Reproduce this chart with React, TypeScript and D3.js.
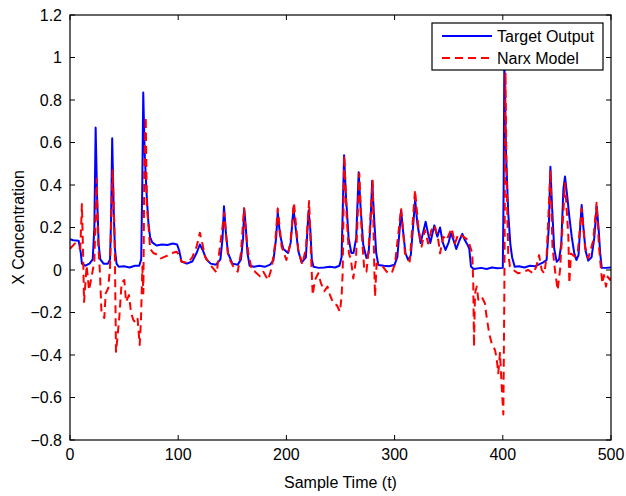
import React from "react";
import * as d3 from "d3";

const xTicks = [0, 100, 200, 300, 400, 500];
const yTicks = [-0.8, -0.6, -0.4, -0.2, 0, 0.2, 0.4, 0.6, 0.8, 1, 1.2];
const seriesNames = ["Target Output", "Narx Model"];
const xLabel = "Sample Time (t)";
const yLabel = "X Concentration";

const targetOutput: [number, number][] = [
  [0,0.145],[3,0.14],[8,0.138],[10,0.08],[11,0.03],[14,0.02],[18,0.03],[21,0.05],[22.5,0.2],[23.7,0.67],[25,0.35],[26.5,0.12],[28,0.05],[31,0.03],[35,0.03],[37,0.05],[38,0.25],[39,0.62],[40.3,0.3],[41.5,0.1],[43,0.03],[45,0.015],[50,0.018],[55,0.012],[60,0.02],[64,0.02],[65.8,0.05],[66.8,0.4],[67.7,0.835],[69,0.55],[71,0.34],[72.5,0.22],[74,0.155],[76,0.13],[80,0.115],[85,0.12],[90,0.118],[95,0.125],[99,0.12],[101,0.09],[103,0.04],[108,0.03],[113,0.04],[117,0.08],[120,0.12],[123,0.09],[126,0.05],[130,0.03],[135,0.025],[139,0.05],[141,0.15],[142.3,0.3],[144,0.18],[146,0.08],[150,0.03],[155,0.025],[158,0.05],[160,0.15],[161,0.29],[162.5,0.2],[164,0.08],[166,0.02],[170,0.015],[175,0.02],[180,0.015],[185,0.025],[188,0.045],[190.5,0.15],[192,0.27],[194,0.17],[197,0.1],[201.5,0.08],[204,0.13],[206.5,0.29],[208.5,0.2],[211,0.09],[214,0.035],[218,0.06],[220.5,0.28],[222,0.2],[223.5,0.05],[225,0.015],[230,0.01],[235,0.012],[240,0.015],[245,0.012],[249,0.02],[251,0.06],[253.3,0.54],[255,0.35],[257.5,0.15],[260,0.08],[262,0.08],[264.5,0.15],[266.8,0.46],[268.5,0.3],[271,0.12],[274,0.056],[276,0.08],[277.5,0.2],[279.3,0.42],[281,0.25],[283,0.08],[285,0.023],[290,0.02],[295,0.018],[300,0.025],[302.5,0.06],[304.5,0.18],[306,0.28],[307.5,0.2],[310,0.08],[312.5,0.047],[315,0.07],[317,0.2],[319,0.33],[321,0.22],[324,0.127],[326.5,0.18],[328.7,0.227],[331,0.17],[333,0.127],[336.7,0.21],[339.5,0.157],[342,0.2],[344.5,0.13],[347,0.094],[350,0.13],[352,0.174],[354.5,0.14],[357,0.099],[360,0.14],[362.6,0.17],[365,0.14],[367.5,0.118],[369,0.1],[370.6,0.016],[373,0.005],[380,0.01],[385,0.005],[390,0.012],[395,0.008],[400,0.01],[400.8,0.4],[401.4,0.98],[403,0.55],[405,0.27],[407,0.12],[408.6,0.06],[411,0.015],[415,0.018],[420,0.012],[425,0.02],[430,0.018],[432.5,0.024],[437,0.035],[440.5,0.047],[442.5,0.2],[444,0.486],[445.5,0.3],[447.5,0.1],[449.8,0.039],[452,0.05],[454,0.12],[456,0.38],[457.5,0.44],[459.5,0.35],[461.5,0.25],[463.7,0.157],[466,0.08],[468,0.047],[470,0.07],[471.5,0.2],[472.9,0.306],[474.5,0.2],[476.5,0.09],[479,0.044],[482,0.06],[484.5,0.15],[486.8,0.3],[488.5,0.2],[490,0.08],[491.4,0.011],[495,0.01],[500,0.012]
];

const narxModel: [number, number][] = [
  [0,0.1],[4.6,0.125],[7.4,0.11],[9.5,0.1],[11,0.31],[12,0.1],[13,-0.15],[15.4,0.02],[17.6,-0.095],[20,-0.03],[22.5,0.04],[24.6,0.43],[26,0.13],[27.7,-0.015],[29,-0.19],[31.7,-0.226],[33,-0.11],[35.4,-0.085],[37,0.016],[39.4,0.47],[41,0.2],[41.6,0.024],[42.5,-0.385],[44,-0.31],[45.6,-0.22],[47.7,-0.06],[50.2,-0.047],[51.8,-0.15],[54.5,-0.118],[56.4,-0.2],[58.5,-0.235],[61,-0.25],[62.5,-0.23],[64.4,-0.353],[65.6,-0.235],[66.9,0.016],[67.8,-0.11],[68.7,0.5],[70,0.72],[71,0.3],[72.4,0.22],[74,0.1],[77,0.08],[81.6,0.07],[84,0.055],[87.8,0.063],[91,0.07],[94,0.08],[98.6,0.086],[101,0.07],[103,0.04],[109,0.033],[113,0.06],[117,0.11],[120,0.175],[122.5,0.12],[124.8,0.063],[131,0.016],[135.6,-0.013],[138.6,0.11],[142.6,0.27],[144.5,0.15],[146.3,0.063],[151,0.016],[155,-0.008],[158,0.08],[160.8,0.29],[162.5,0.18],[164.8,0.08],[168,0.0],[171,-0.008],[175.6,-0.03],[178.7,-0.008],[183,-0.047],[186.4,0.01],[189.5,0.12],[192,0.29],[195.6,0.11],[200,0.047],[203.5,0.12],[207,0.317],[211,0.094],[214.7,0.028],[218,0.1],[221,0.325],[222.7,0.078],[224.3,-0.118],[226.4,-0.047],[229.5,-0.015],[232,-0.063],[235,-0.1],[238,-0.078],[240.3,-0.118],[243.4,-0.157],[246.5,-0.165],[249.5,-0.196],[251,-0.125],[252,-0.016],[253.5,0.54],[255.7,0.25],[257.8,0.078],[259.7,0.047],[261.8,-0.04],[264.3,0.047],[267.4,0.455],[269.6,0.17],[272,0],[274,-0.008],[275.7,0.078],[279.7,0.42],[281.2,0.016],[281.9,-0.125],[283.4,0.03],[288,0.024],[292.6,-0.008],[297.3,-0.016],[300.4,0.03],[306,0.29],[309.6,0.078],[314,0.04],[318.9,0.376],[322,0.2],[325,0.11],[328,0.188],[331,0.125],[334,0.188],[337,0.21],[340.4,0.14],[342,0.078],[345,0.157],[348,0.14],[352.7,0.196],[355.8,0.125],[358.9,0.17],[363.5,0.157],[368,0.14],[371.8,0.078],[372.7,-0.063],[373.4,-0.36],[374.3,-0.11],[375.9,-0.078],[377.4,-0.14],[380.5,-0.125],[383.5,-0.157],[385,-0.22],[387.5,-0.3],[389.7,-0.345],[392.8,-0.376],[394.4,-0.42],[395.8,-0.486],[397.4,-0.39],[399,-0.55],[400.5,-0.68],[401.4,-0.125],[402.5,0.93],[403.4,0.456],[405,0.078],[406.6,0.016],[409.7,0],[414.3,-0.016],[419,-0.008],[423.6,0],[428,-0.016],[431,0.016],[433.5,0.07],[436,0],[438.4,-0.016],[440.5,0.063],[444,0.47],[445.9,0.11],[448.2,0],[450.7,-0.094],[452.9,0],[457.5,0.408],[460.6,0.157],[461.5,-0.063],[463,0.078],[466.7,0.063],[469.2,0.078],[472.9,0.29],[476,0.11],[479,0.055],[483.6,0.14],[486.7,0.317],[488.9,0.11],[490.8,0],[492,-0.063],[493.5,-0.024],[495.4,-0.078],[496.9,-0.031],[499.1,-0.047],[500,-0.03]
];

const W = 626, H = 496;
const M = { left: 70, right: 611, top: 15, bottom: 440 };
const FONT = "'Liberation Sans', Arial, Helvetica, sans-serif";

function fmtY(v: number) {
  const s = d3.format("~g")(Math.round(v * 10) / 10);
  return s.replace("-", "\u2212");
}

export default function App() {
  const x = d3.scaleLinear().domain([0, 500]).range([M.left, M.right]);
  const y = d3.scaleLinear().domain([-0.8, 1.2]).range([M.bottom, M.top]);
  const line = d3.line<[number, number]>().x((d) => x(d[0])).y((d) => y(d[1]));
  const tl = 5;
  const lx = 432, ly = 23, lw = 171, lh = 47;
  return (
    <svg width={W} height={H} style={{ position: "absolute", left: 0, top: 0, background: "#fff" }} fontFamily={FONT}>
      <rect x={0} y={0} width={W} height={H} fill="#fff" />
      <defs>
        <clipPath id="plotclip">
          <rect x={M.left} y={M.top} width={M.right - M.left} height={M.bottom - M.top} />
        </clipPath>
      </defs>
      <g clipPath="url(#plotclip)">
        <path d={line(targetOutput) || ""} fill="none" stroke="#0000ff" strokeWidth={2} strokeLinejoin="round" />
        <path d={line(narxModel) || ""} fill="none" stroke="#ff0000" strokeWidth={2} strokeDasharray="8,5" strokeLinejoin="round" />
      </g>
      {/* box */}
      <rect x={M.left} y={M.top} width={M.right - M.left} height={M.bottom - M.top} fill="none" stroke="#000" strokeWidth={1.2} />
      {xTicks.map((t) => (
        <g key={"x" + t}>
          <line x1={x(t)} x2={x(t)} y1={M.bottom} y2={M.bottom - tl} stroke="#000" />
          <line x1={x(t)} x2={x(t)} y1={M.top} y2={M.top + tl} stroke="#000" />
          <text x={x(t)} y={M.bottom + 20} fontSize={16} textAnchor="middle">{t}</text>
        </g>
      ))}
      {yTicks.map((t) => (
        <g key={"y" + t}>
          <line x1={M.left} x2={M.left + tl} y1={y(t)} y2={y(t)} stroke="#000" />
          <line x1={M.right} x2={M.right - tl} y1={y(t)} y2={y(t)} stroke="#000" />
          <text x={M.left - 8} y={y(t) + 5.5} fontSize={16} textAnchor="end">{fmtY(t)}</text>
        </g>
      ))}
      <text x={(M.left + M.right) / 2} y={488} fontSize={16} textAnchor="middle">{xLabel}</text>
      <text transform={`translate(24,${(M.top + M.bottom) / 2}) rotate(-90)`} fontSize={16} textAnchor="middle">{yLabel}</text>
      {/* legend */}
      <rect x={lx} y={ly} width={lw} height={lh} fill="#fff" stroke="#000" strokeWidth={1.2} />
      <line x1={lx + 10} x2={lx + 60} y1={ly + 13} y2={ly + 13} stroke="#0000ff" strokeWidth={2} />
      <line x1={lx + 10} x2={lx + 60} y1={ly + 35} y2={ly + 35} stroke="#ff0000" strokeWidth={2} strokeDasharray="8,5" />
      <text x={lx + 65} y={ly + 19} fontSize={16}>{seriesNames[0]}</text>
      <text x={lx + 65} y={ly + 41} fontSize={16}>{seriesNames[1]}</text>
    </svg>
  );
}
